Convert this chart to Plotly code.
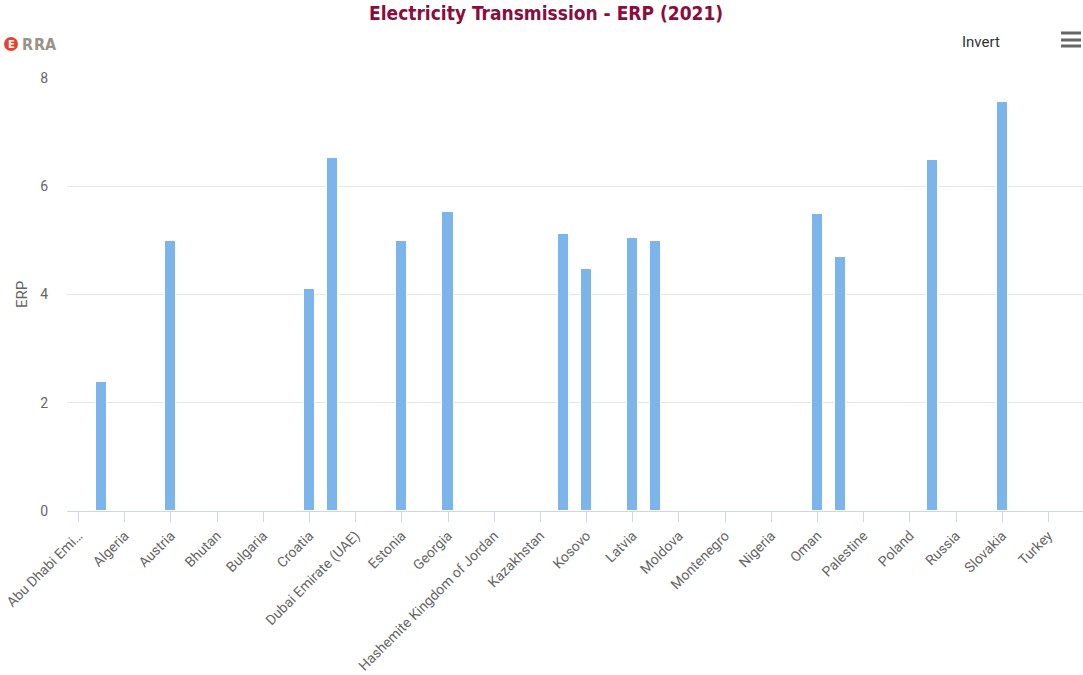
import plotly.graph_objects as go

# Countries on the category axis (alphabetical); only every other one is labelled
countries = [
    "Abu Dhabi Emirate", "Albania", "Algeria", "Armenia", "Austria", "Azerbaijan",
    "Bhutan", "Bosnia and Herzegovina", "Bulgaria", "Cape Verde", "Croatia",
    "Czech Republic", "Dubai Emirate (UAE)", "Egypt", "Estonia", "Finland",
    "Georgia", "Ghana", "Hashemite Kingdom of Jordan", "Hungary", "Kazakhstan",
    "Kingdom of Saudi Arabia", "Kosovo", "Kyrgyz Republic", "Latvia", "Lithuania",
    "Moldova", "Mongolia", "Montenegro", "Nepal", "Nigeria", "North Macedonia",
    "Oman", "Pakistan", "Palestine", "Peru", "Poland", "Romania", "Russia",
    "Serbia", "Slovakia", "Slovenia", "Turkey", "Ukraine",
]

# ERP values (None = no reported value)
erp = [
    None, 2.38, None, None, 4.98, None,
    None, None, None, None, 4.11,
    6.52, None, None, 4.98, None,
    5.52, None, None, None, None,
    5.11, 4.48, None, 5.04, 4.98,
    None, None, None, None, None, None,
    5.48, 4.69, None, None, None, 6.48, None,
    None, 7.55, None, None, None,
]

y_ticks = [0, 2, 4, 6, 8]

title_text = "Electricity Transmission - ERP (2021)"
axis_title = "ERP"

idx = list(range(len(countries)))
shown = idx[::2]
shown_text = ["Abu Dhabi Emi\u2026" if countries[i] == "Abu Dhabi Emirate" else countries[i]
              for i in shown]

W, H = 1083, 675
L, R, T, B = 67, 0, 78, 164
pw = W - L - R
ph = H - T - B


def px_x(x):
    return (x - L) / pw


def px_y(y):
    return (H - B - y) / ph


fig = go.Figure()
fig.add_trace(go.Bar(
    x=idx,
    y=erp,
    width=0.48,
    marker=dict(color="#7cb5ec", line=dict(color="#ffffff", width=1)),
    customdata=countries,
    hovertemplate="%{customdata}<br>ERP: %{y}<extra></extra>",
    name="ERP",
))

fig.update_layout(
    width=W, height=H,
    margin=dict(l=L, r=R, t=T, b=B),
    paper_bgcolor="#ffffff",
    plot_bgcolor="#ffffff",
    showlegend=False,
    bargap=0,
    font=dict(family="Roboto, Open Sans, sans-serif", color="#666666", size=13),
    xaxis=dict(
        range=[-0.5, len(countries) - 0.5],
        tickmode="array",
        tickvals=shown,
        ticktext=shown_text,
        tickangle=-45,
        ticks="outside",
        ticklen=10,
        tickwidth=1,
        tickcolor="#ccd6eb",
        showline=True,
        linecolor="#ccd6eb",
        linewidth=1,
        showgrid=False,
        zeroline=False,
        tickfont=dict(size=14, color="#666666"),
    ),
    yaxis=dict(
        range=[0, 8],
        tickvals=y_ticks,
        showgrid=True,
        gridcolor="#e6e6e6",
        gridwidth=1,
        zeroline=False,
        showline=False,
        ticks="",
        ticklabelstandoff=18,
        tickfont=dict(size=14, color="#666666"),
    ),
)

# Title (dark crimson, condensed bold, at the very top edge)
fig.add_annotation(
    text="<b>" + title_text + "</b>",
    xref="paper", yref="paper",
    x=px_x(546), y=px_y(0),
    xanchor="center", yanchor="top",
    showarrow=False,
    font=dict(family="DejaVu Sans Condensed, sans-serif", size=19, color="#8b0d3d"),
)

# Y axis title
fig.add_annotation(
    text=axis_title,
    xref="paper", yref="paper",
    x=px_x(22), y=px_y(295),
    xanchor="center", yanchor="middle",
    textangle=-90,
    showarrow=False,
    font=dict(size=15, color="#666666"),
)

# "Invert" toggle label
fig.add_annotation(
    text="Invert",
    xref="paper", yref="paper",
    x=px_x(981), y=px_y(42),
    xanchor="center", yanchor="middle",
    showarrow=False,
    font=dict(size=15, color="#333333"),
)

# Hamburger menu icon
for yy in (33, 40, 46):
    fig.add_shape(
        type="line",
        xref="paper", yref="paper",
        x0=px_x(1061), x1=px_x(1081), y0=px_y(yy), y1=px_y(yy),
        line=dict(color="#666666", width=3),
    )

# ERRA logo: red disc with E, then grey R R A
fig.add_shape(
    type="circle",
    xref="paper", yref="paper",
    x0=px_x(4), x1=px_x(18), y0=px_y(51), y1=px_y(37),
    fillcolor="#e8412c", line=dict(color="#e8412c", width=0),
)
fig.add_annotation(
    text="<b>E</b>",
    xref="paper", yref="paper",
    x=px_x(11), y=px_y(44),
    xanchor="center", yanchor="middle",
    showarrow=False,
    font=dict(size=10, color="#ffffff", family="DejaVu Sans"),
)
for letter, cx in (("R", 27), ("R", 39), ("A", 51)):
    fig.add_annotation(
        text="<b>" + letter + "</b>",
        xref="paper", yref="paper",
        x=px_x(cx), y=px_y(44),
        xanchor="center", yanchor="middle",
        showarrow=False,
        font=dict(size=16, color="#9a9188", family="DejaVu Sans Condensed, DejaVu Sans"),
    )

fig.write_html("out.html")
